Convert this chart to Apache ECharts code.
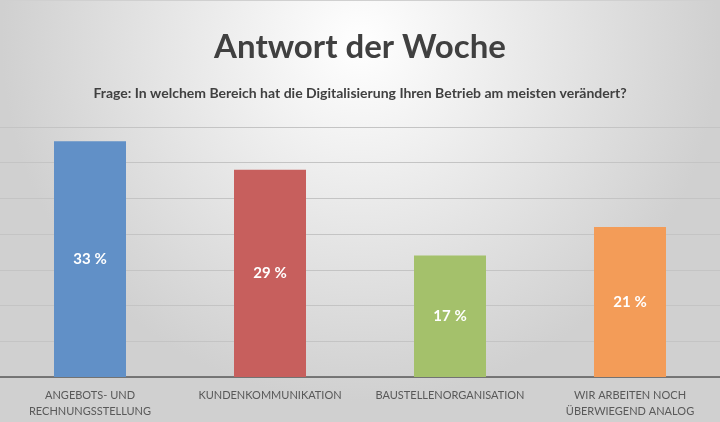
<!DOCTYPE html>
<html lang="de">
  <head>
    <meta charset="UTF-8" />
    <title>Antwort der Woche</title>
    <script src="https://cdn.jsdelivr.net/npm/echarts@6/dist/echarts.min.js"></script>
    <style>
      * {
        margin: 0;
        padding: 0;
      }
      body {
        background: #fff;
      }
    </style>
  </head>
  <body>
    <div id="main" style="width: 720px; height: 422px"></div>
    <script>
      // Daten
      var categories = ['ANGEBOTS- UND\nRECHNUNGSSTELLUNG', 'KUNDENKOMMUNIKATION', 'BAUSTELLENORGANISATION', 'WIR ARBEITEN NOCH\nÜBERWIEGEND ANALOG'];
      var values = [33, 29, 17, 21];
      var barColors = ['#6190c7', '#c75f5d', '#a4c16b', '#f39c58'];

      var myChart = echarts.init(document.getElementById('main'));
      myChart.setOption({
        backgroundColor: {
          type: 'radial',
          x: 0.5,
          y: 0.1,
          r: 0.85,
          colorStops: [
            { offset: 0, color: '#ffffff' },
            { offset: 1, color: '#d0d0d0' }
          ]
        },
        title: [
          {
            text: 'Antwort der Woche',
            left: 'center',
            top: 26,
            textStyle: {
              fontFamily: 'Lato',
              fontWeight: 'bold',
              fontSize: 33,
              color: '#404040'
            }
          },
          {
            text: 'Frage: In welchem Bereich hat die Digitalisierung Ihren Betrieb am meisten verändert?',
            left: 'center',
            top: 81,
            textStyle: {
              fontFamily: 'Lato',
              fontWeight: 'bold',
              fontSize: 14,
              color: '#404040'
            }
          }
        ],
        graphic: [
          {
            type: 'rect',
            shape: { x: 0.5, y: 0.5, width: 719, height: 421 },
            style: { fill: 'none', stroke: '#d0d0d0', lineWidth: 1 },
            silent: true
          }
        ],
        grid: {
          left: 0,
          right: 0,
          top: 127,
          bottom: 45
        },
        xAxis: {
          type: 'category',
          data: categories,
          axisTick: { show: false },
          axisLine: { lineStyle: { color: '#595959', width: 1.5 } },
          axisLabel: {
            interval: 0,
            margin: 10,
            fontFamily: 'Lato',
            fontSize: 11,
            lineHeight: 16,
            color: '#595959'
          }
        },
        yAxis: {
          type: 'value',
          min: 0,
          max: 35,
          interval: 5,
          axisLabel: { show: false },
          axisLine: { show: false },
          axisTick: { show: false },
          splitLine: { lineStyle: { color: '#c4c4c4', width: 1 } }
        },
        series: [
          {
            type: 'bar',
            barWidth: '40%',
            data: values.map(function (v, i) {
              return { value: v, itemStyle: { color: barColors[i] } };
            }),
            label: {
              show: true,
              position: 'inside',
              formatter: '{c} %',
              fontFamily: 'Lato',
              fontWeight: 'bold',
              fontSize: 15,
              color: '#fff'
            }
          }
        ]
      });
    </script>
  </body>
</html>
